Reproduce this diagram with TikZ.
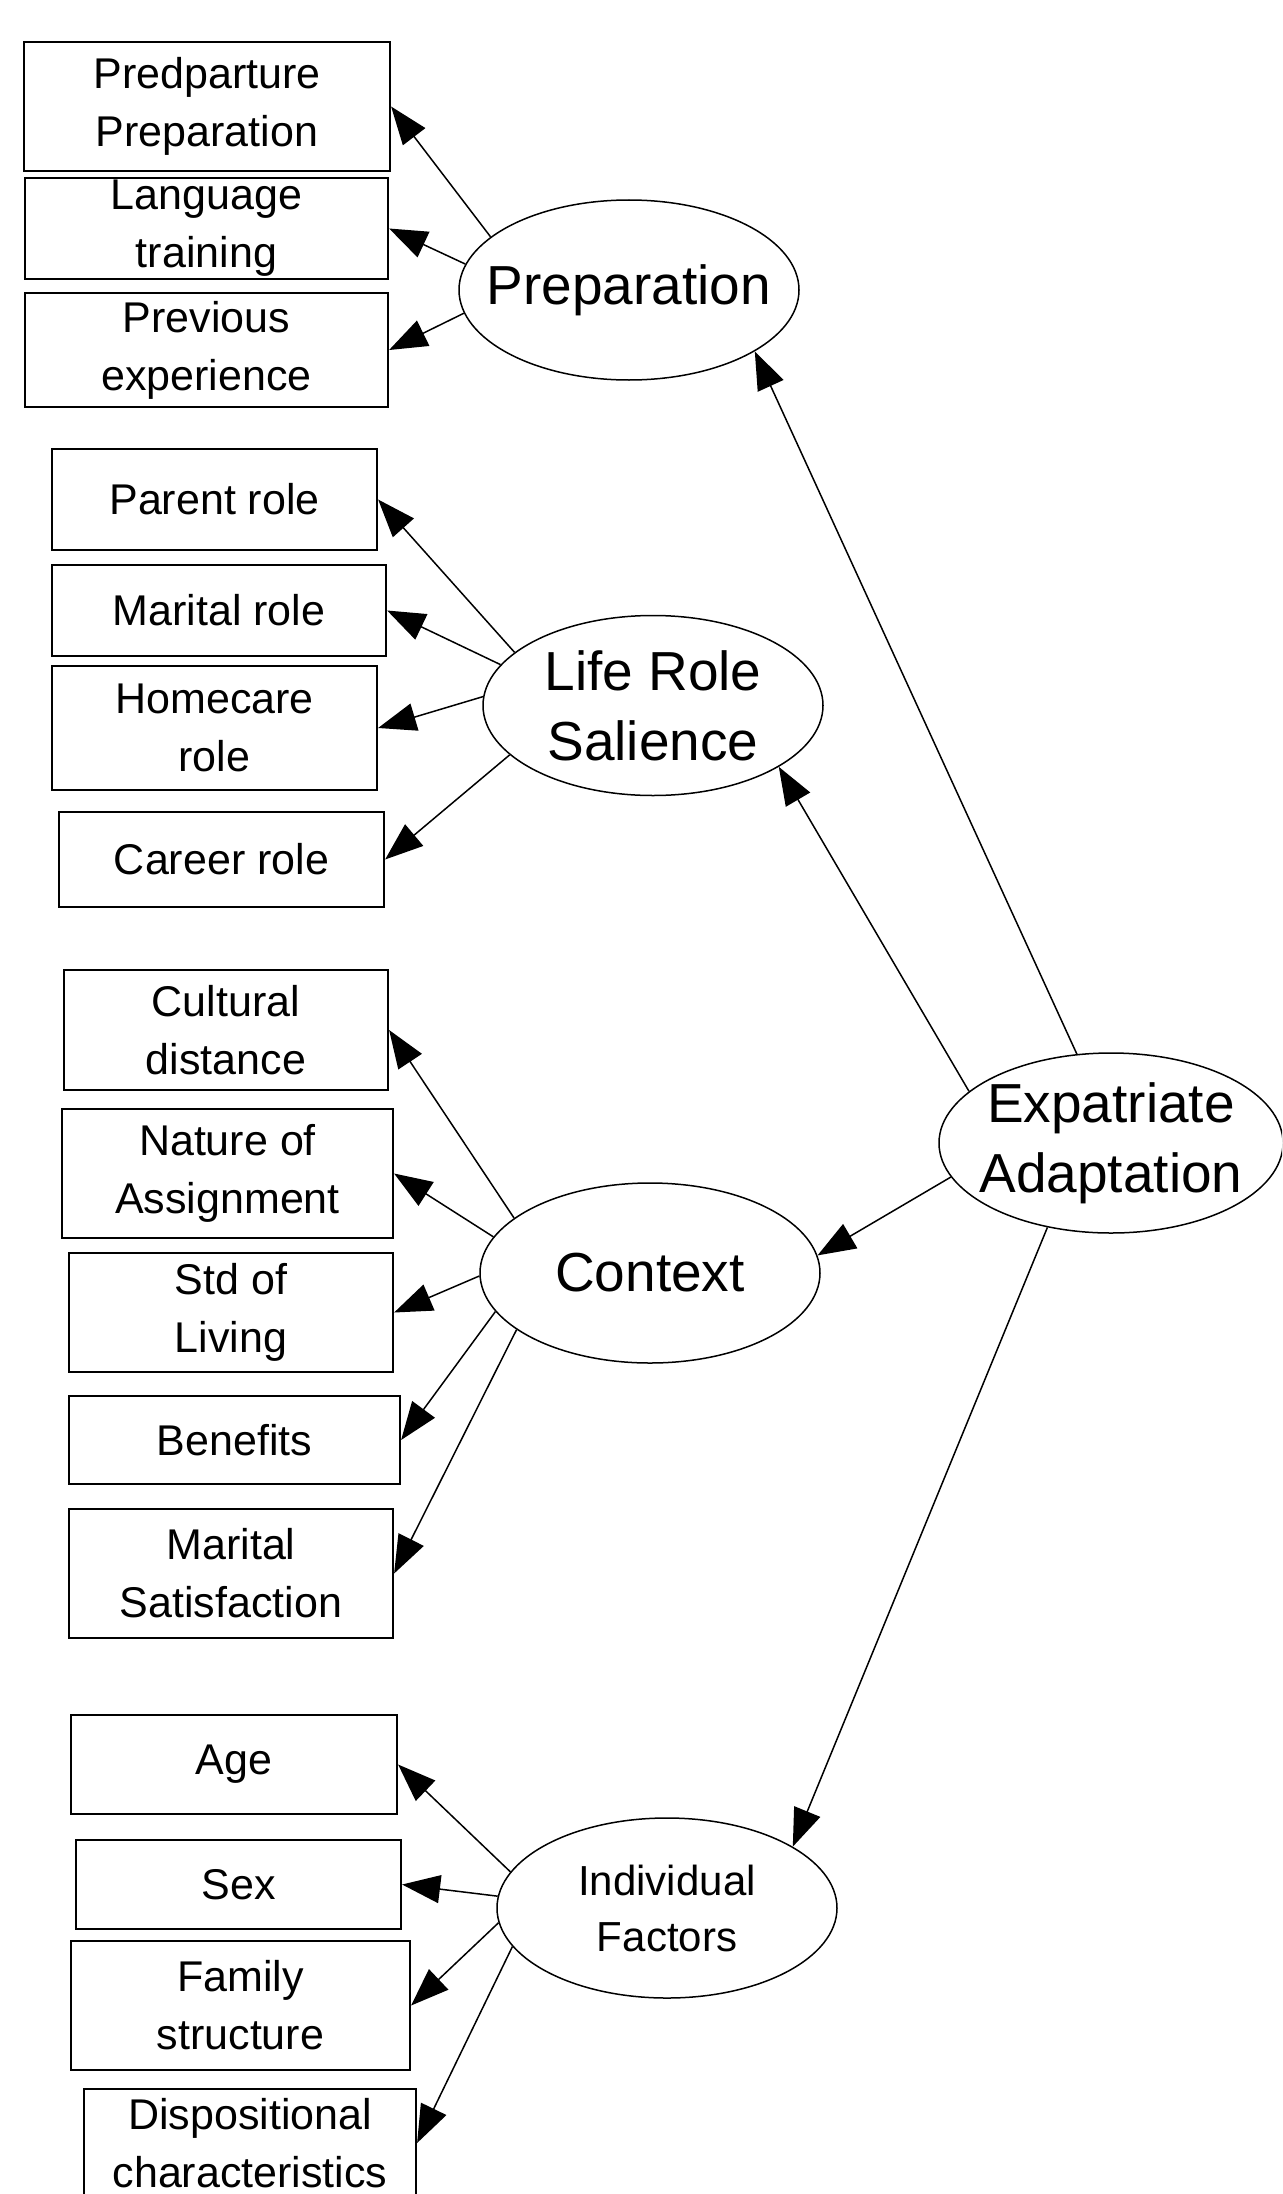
\documentclass[tikz,border=0pt]{standalone}
\usepackage{fontspec}
\setmainfont{Liberation Sans}
\usetikzlibrary{shapes, arrows.meta}

\begin{document}
\begin{tikzpicture}[x=1pt, y=-1pt,
  factor/.style={draw, rectangle, line width=2.2pt, inner sep=0pt, align=center, font={\fontsize{43}{58}\selectfont}},
  latent/.style={draw, ellipse, line width=1.5pt, inner xsep=-30pt, inner ysep=0pt, minimum width=340pt, minimum height=180pt, align=center, font={\fontsize{55}{70}\selectfont}},
  link/.style={line width=1.5pt, -{Triangle[length=38pt, width=28pt]}}]
\useasboundingbox (0,0) rectangle (1282,2194);
\clip (0,0) rectangle (1282,2194);

\node[latent, minimum width=344pt] (expat) at (1111,1143) {Expatriate\\Adaptation};

\node[latent] (prep) at (629,290) {Preparation};
\node[factor, minimum width=366pt, minimum height=129pt] (pred) at (207,106.5) {Predparture\\Preparation};
\node[factor, minimum width=363pt, minimum height=101pt] (lang) at (206.5,228.5) {Language\\training};
\node[factor, minimum width=363pt, minimum height=114pt] (prev) at (206.5,350) {Previous\\experience};
\draw[link] (prep.159) -- (pred.east);
\draw[link] (prep.171) -- (lang.east);
\draw[link] (prep.188) -- (prev.east);

\node[latent] (life) at (653,705.5) {Life Role\\Salience};
\node[factor, minimum width=325pt, minimum height=101pt] (parent) at (214.5,499.5) {Parent role};
\node[factor, minimum width=334pt, minimum height=91pt] (marital) at (219,610.5) {Marital role};
\node[factor, minimum width=325pt, minimum height=124pt] (homecare) at (214.5,728) {Homecare\\role};
\node[factor, minimum width=325pt, minimum height=95pt] (career) at (221.5,859.5) {Career role};
\draw[link] (life.159) -- (parent.east);
\draw[link] (life.165) -- (marital.east);
\draw[link] (life.177) -- (homecare.east);
\draw[link] (life.199) -- (career.east);

\node[latent] (context) at (650,1273) {Context};
\node[factor, minimum width=324pt, minimum height=120pt] (cultural) at (226,1030) {Cultural\\distance};
\node[factor, minimum width=331pt, minimum height=129pt] (nature) at (227.5,1173.5) {Nature of\\Assignment};
\node[factor, minimum width=324pt, minimum height=119pt] (living) at (231,1312.5) {Std of\\Living};
\node[factor, minimum width=331pt, minimum height=88pt] (benefits) at (234.5,1440) {Benefits};
\node[factor, minimum width=324pt, minimum height=129pt] (satisf) at (231,1573.5) {Marital\\Satisfaction};
\draw[link] (context.158) -- (cultural.east);
\draw[link] (context.167) -- (nature.east);
\draw[link] (context.181) -- (living.east);
\draw[link] (context.194) -- (benefits.east);
\draw[link] (context.203) -- (satisf.east);

\node[latent, font={\fontsize{42}{56}\selectfont}] (indiv) at (667,1908) {Individual\\Factors};
\node[factor, minimum width=326pt, minimum height=99pt] (age) at (234,1764.5) {Age};
\node[factor, minimum width=325pt, minimum height=89pt] (sex) at (238.5,1884.5) {Sex};
\node[factor, minimum width=339pt, minimum height=129pt] (family) at (240.5,2005.5) {Family\\structure};
\node[factor, minimum width=332pt, minimum height=108pt] (dispos) at (250,2143) {Dispositional\\characteristics};
\draw[link] (indiv.167) -- (age.east);
\draw[link] (indiv.176) -- (sex.east);
\draw[link] (indiv.185) -- (family.east);
\draw[link] (indiv.194) -- (dispos.east);

\draw[link] (expat.111) -- (prep.334);
\draw[link] (expat.160) -- (life.334);
\draw[link] (expat.192) -- (context.6);
\draw[link] (expat.233) -- (indiv.26);
\end{tikzpicture}
\end{document}
